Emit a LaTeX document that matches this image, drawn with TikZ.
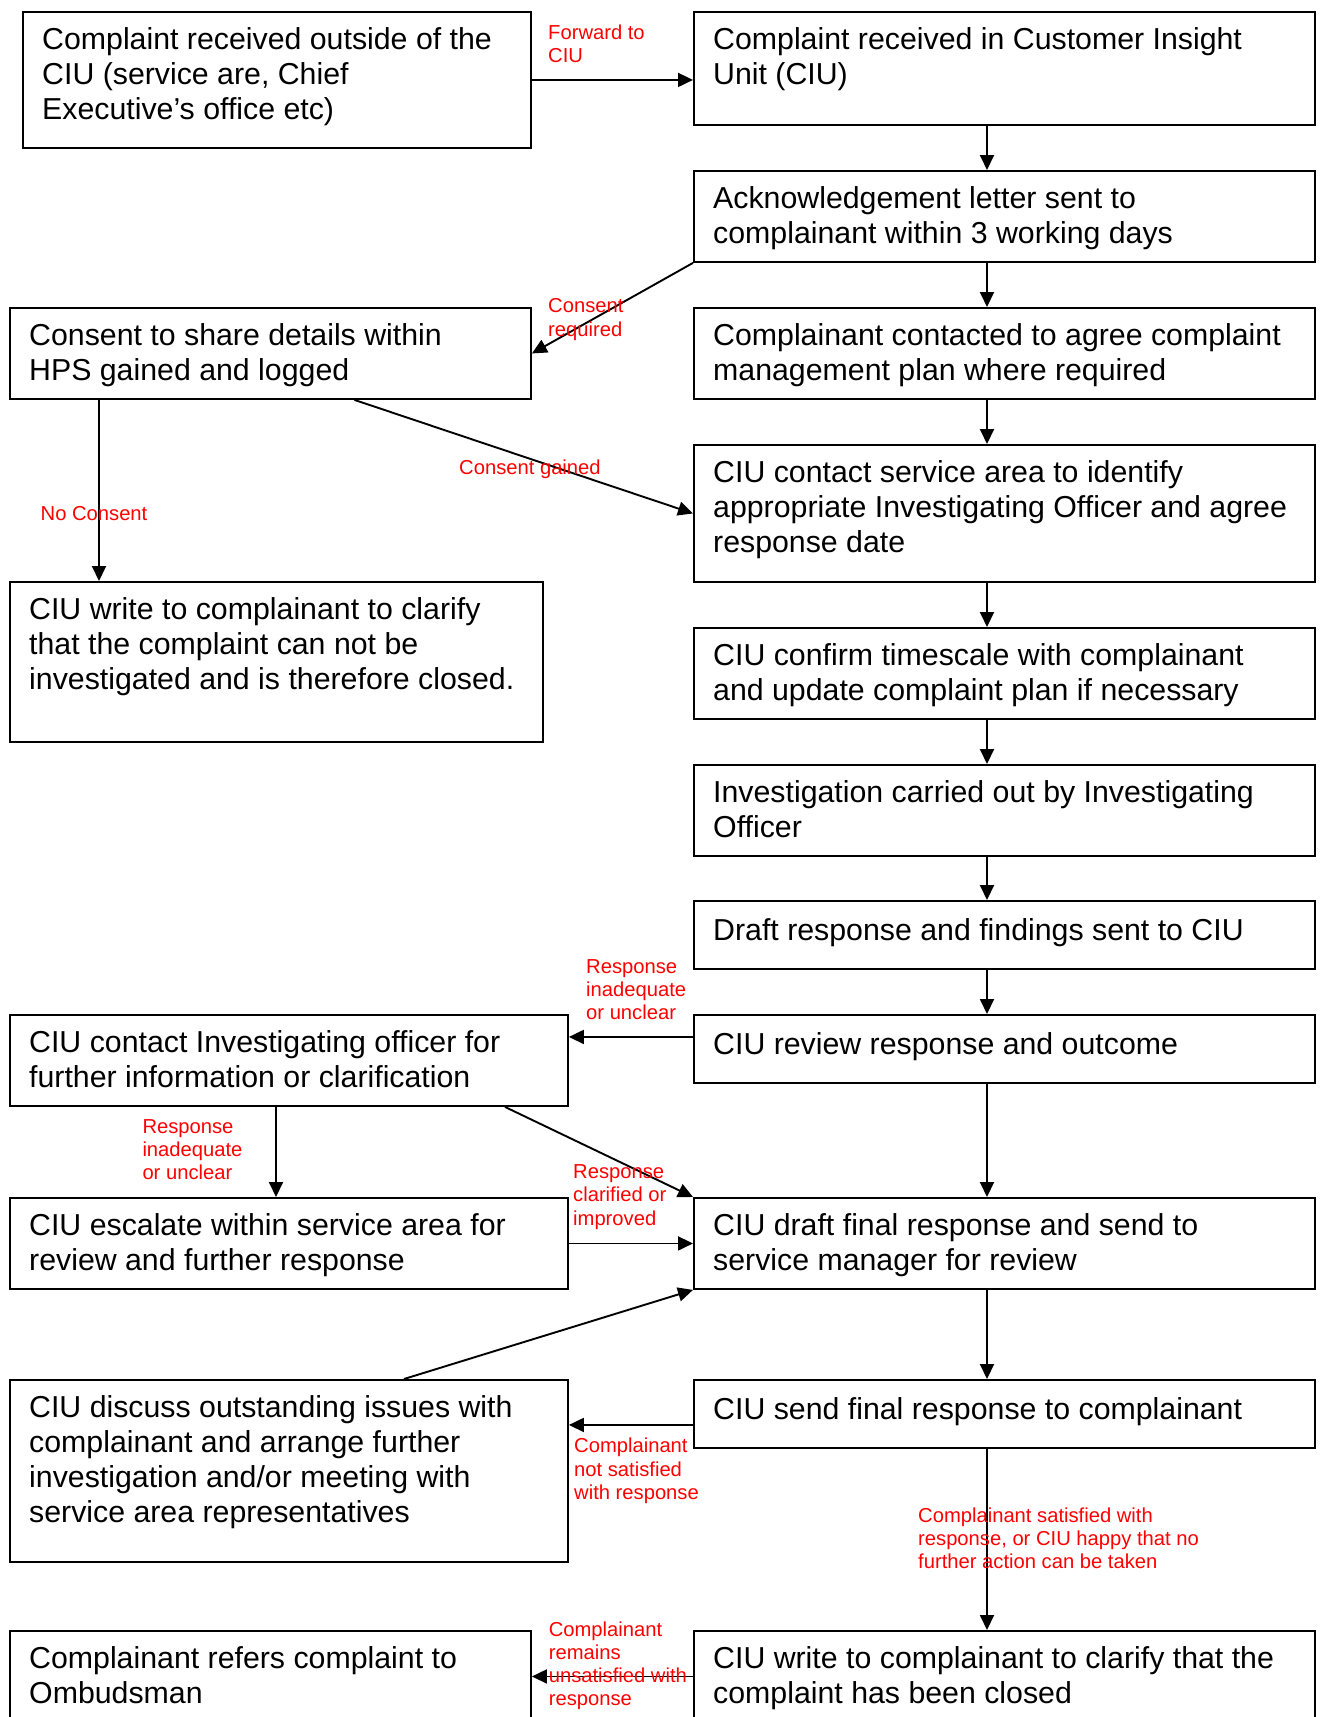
\documentclass[tikz,border=0pt]{standalone}
\usepackage{fontspec}
\setmainfont{Liberation Sans}
\usetikzlibrary{arrows.meta}
\begin{document}
\begin{tikzpicture}[x=1pt, y=-1pt,
	stage/.style={draw, line width=1.9pt, inner sep=0pt, anchor=north west},
	stagetext/.style={anchor=north west, inner sep=0pt, align=left, font=\fontsize{30.3}{35}\selectfont, execute at begin node=\strut},
	flow/.style={-{Triangle[length=15pt,width=14pt]}, line width=1.9pt},
	note/.style={anchor=north west, inner sep=0pt, align=left, text=red, font=\fontsize{20.2}{23.3}\selectfont, execute at begin node=\strut}]
	\useasboundingbox (0,0) rectangle (1322,1717);
	\clip (0,0) rectangle (1322,1717);
	% columns for the straight arrows
	\coordinate (spine) at (987,0);
	\coordinate (nocol) at (99,0);
	\coordinate (esccol) at (276,0);
	% left column
	\node[stage, minimum width=508pt, minimum height=136pt] (complaintout) at (22,11) {};
	\node[stagetext] (complaintout-t) at ([shift={(20pt,-16pt)}]complaintout.north west) {Complaint received outside of the\\CIU (service are, Chief\\Executive’s office etc)};
	\node[stage, minimum width=521pt, minimum height=91pt] (consent) at (9,307) {};
	\node[stagetext] (consent-t) at ([shift={(20pt,-16pt)}]consent.north west) {Consent to share details within\\HPS gained and logged};
	\node[stage, minimum width=533pt, minimum height=160pt] (noconsent) at (9,581) {};
	\node[stagetext] (noconsent-t) at ([shift={(20pt,-16pt)}]noconsent.north west) {CIU write to complainant to clarify\\that the complaint can not be\\investigated and is therefore closed.};
	\node[stage, minimum width=558pt, minimum height=91pt] (contactio) at (9,1014) {};
	\node[stagetext] (contactio-t) at ([shift={(20pt,-16pt)}]contactio.north west) {CIU contact Investigating officer for\\further information or clarification};
	\node[stage, minimum width=558pt, minimum height=91pt] (escalate) at (9,1197) {};
	\node[stagetext] (escalate-t) at ([shift={(20pt,-16pt)}]escalate.north west) {CIU escalate within service area for\\review and further response};
	\node[stage, minimum width=558pt, minimum height=182pt] (discuss) at (9,1379) {};
	\node[stagetext] (discuss-t) at ([shift={(20pt,-16pt)}]discuss.north west) {CIU discuss outstanding issues with\\complainant and arrange further\\investigation and/or meeting with\\service area representatives};
	\node[stage, minimum width=521pt, minimum height=91pt] (ombudsman) at (9,1630) {};
	\node[stagetext] (ombudsman-t) at ([shift={(20pt,-16pt)}]ombudsman.north west) {Complainant refers complaint to\\Ombudsman};
	% right column
	\node[stage, minimum width=621pt, minimum height=113pt] (ciureceived) at (693,11) {};
	\node[stagetext] (ciureceived-t) at ([shift={(20pt,-16pt)}]ciureceived.north west) {Complaint received in Customer Insight\\Unit (CIU)};
	\node[stage, minimum width=621pt, minimum height=91pt] (ack) at (693,170) {};
	\node[stagetext] (ack-t) at ([shift={(20pt,-16pt)}]ack.north west) {Acknowledgement letter sent to\\complainant within 3 working days};
	\node[stage, minimum width=621pt, minimum height=91pt] (contacted) at (693,307) {};
	\node[stagetext] (contacted-t) at ([shift={(20pt,-16pt)}]contacted.north west) {Complainant contacted to agree complaint\\management plan where required};
	\node[stage, minimum width=621pt, minimum height=137pt] (servicearea) at (693,444) {};
	\node[stagetext] (servicearea-t) at ([shift={(20pt,-16pt)}]servicearea.north west) {CIU contact service area to identify\\appropriate Investigating Officer and agree\\response date};
	\node[stage, minimum width=621pt, minimum height=91pt] (timescale) at (693,627) {};
	\node[stagetext] (timescale-t) at ([shift={(20pt,-16pt)}]timescale.north west) {CIU confirm timescale with complainant\\and update complaint plan if necessary};
	\node[stage, minimum width=621pt, minimum height=91pt] (investigation) at (693,764) {};
	\node[stagetext] (investigation-t) at ([shift={(20pt,-16pt)}]investigation.north west) {Investigation carried out by Investigating\\Officer};
	\node[stage, minimum width=621pt, minimum height=68pt] (draft) at (693,900) {};
	\node[stagetext] (draft-t) at ([shift={(20pt,-16pt)}]draft.north west) {Draft response and findings sent to CIU};
	\node[stage, minimum width=621pt, minimum height=68pt] (review) at (693,1014) {};
	\node[stagetext] (review-t) at ([shift={(20pt,-16pt)}]review.north west) {CIU review response and outcome};
	\node[stage, minimum width=621pt, minimum height=91pt] (finaldraft) at (693,1197) {};
	\node[stagetext] (finaldraft-t) at ([shift={(20pt,-16pt)}]finaldraft.north west) {CIU draft final response and send to\\service manager for review};
	\node[stage, minimum width=621pt, minimum height=68pt] (sendfinal) at (693,1379) {};
	\node[stagetext] (sendfinal-t) at ([shift={(20pt,-16pt)}]sendfinal.north west) {CIU send final response to complainant};
	\node[stage, minimum width=621pt, minimum height=91pt] (closed) at (693,1630) {};
	\node[stagetext] (closed-t) at ([shift={(20pt,-16pt)}]closed.north west) {CIU write to complainant to clarify that the\\complaint has been closed};
	% arrows
	\draw[flow] (complaintout.east) -- (complaintout.east -| ciureceived.west);
	\draw[flow] (ciureceived.south -| spine) -- (ack.north -| spine);
	\draw[flow] (ack.south -| spine) -- (contacted.north -| spine);
	\draw[flow] (contacted.south -| spine) -- (servicearea.north -| spine);
	\draw[flow] (servicearea.south -| spine) -- (timescale.north -| spine);
	\draw[flow] (timescale.south -| spine) -- (investigation.north -| spine);
	\draw[flow] (investigation.south -| spine) -- (draft.north -| spine);
	\draw[flow] (draft.south -| spine) -- (review.north -| spine);
	\draw[flow] (review.south -| spine) -- (finaldraft.north -| spine);
	\draw[flow] (finaldraft.south -| spine) -- (sendfinal.north -| spine);
	\draw[flow] (sendfinal.south -| spine) -- (closed.north -| spine);
	\draw[flow] (ack.south west) -- (consent.east);
	\draw[flow] (consent.south -| nocol) -- (noconsent.north -| nocol);
	\draw[flow] ([xshift=84pt]consent.south) -- (servicearea.west);
	\draw[flow] ([yshift=12pt]review.west) -- ([yshift=12pt]review.west -| contactio.east);
	\draw[flow] (contactio.south -| esccol) -- (escalate.north -| esccol);
	\draw[flow] ([xshift=216pt]contactio.south) -- (finaldraft.north west);
	\draw[flow] (escalate.east) -- (finaldraft.west);
	\draw[flow] ([xshift=115pt]discuss.north) -- (finaldraft.south west);
	\draw[flow] ([yshift=-11pt]sendfinal.west) -- ([yshift=-11pt]sendfinal.west -| discuss.east);
	\draw[flow] (closed.west) -- (ombudsman.east);
	% labels
	\node[note] (fwd) at (548,24.5) {Forward to\\CIU};
	\node[note] (required) at (548,298.5) {Consent\\required};
	\node[note] (gained) at (459,457.9) {Consent gained};
	\node[note] (nocon) at (40.5,504.2) {No Consent};
	\node[note] (inadequate1) at (586,959.2) {Response\\inadequate\\or unclear};
	\node[note] (inadequate2) at (142.3,1118.9) {Response\\inadequate\\or unclear};
	\node[note] (clarified) at (573,1164.5) {Response\\clarified or\\improved};
	\node[note] (notsat) at (574,1437.9) {Complainant\\not satisfied\\with response};
	\node[note] (sat) at (918,1507.2) {Complainant satisfied with\\response, or CIU happy that no\\further action can be taken};
	\node[note] (remains) at (548.6,1621.2) {Complainant\\remains\\unsatisfied with\\response};
\end{tikzpicture}
\end{document}
